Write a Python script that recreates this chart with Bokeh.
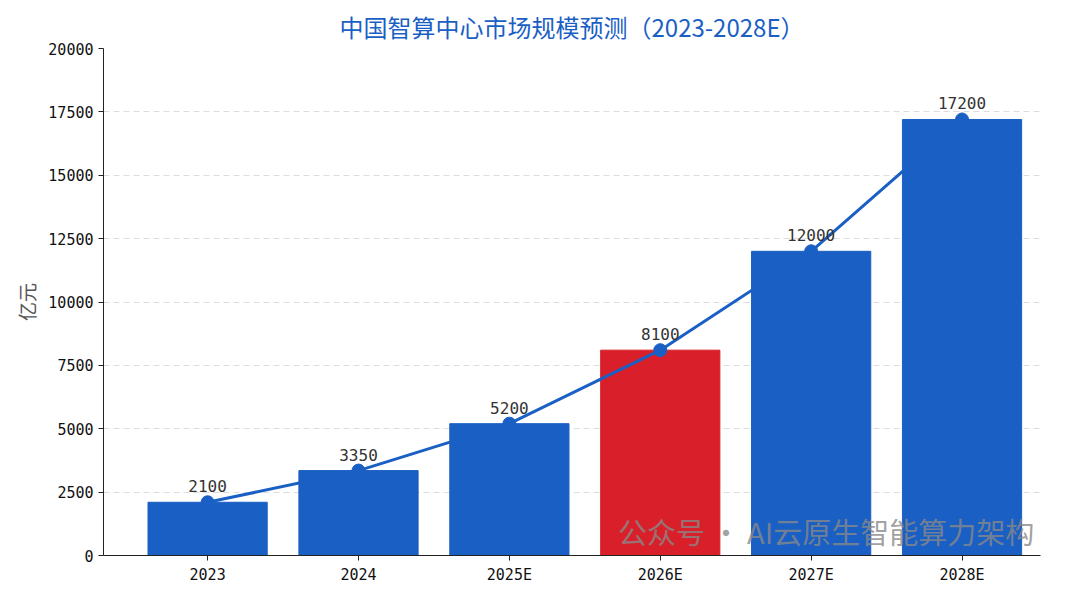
from bokeh.plotting import figure
from bokeh.models import FixedTicker, ColumnDataSource, Label
from bokeh.core.properties import value
from bokeh.embed import file_html
from bokeh.resources import INLINE

categories = ["2023", "2024", "2025E", "2026E", "2027E", "2028E"]
values = [2100, 3350, 5200, 8100, 12000, 17200]
colors = ["#1a5fc4", "#1a5fc4", "#1a5fc4", "#d9202a", "#1a5fc4", "#1a5fc4"]
yticks = [0, 2500, 5000, 7500, 10000, 12500, 15000, 17500, 20000]

xs = list(range(len(categories)))
src = ColumnDataSource(dict(x=xs, v=values, c=colors, lab=[str(v) for v in values]))

p = figure(width=1064, height=586, output_backend="svg", toolbar_location=None,
           x_range=(-0.69, 5.52), y_range=(0, 20000),
           min_border_left=103, min_border_right=24, min_border_top=48, min_border_bottom=30)
p.title.text = "中国智算中心市场规模预测（2023-2028E）"
p.title.align = "center"
p.title.text_font = "Noto Sans CJK SC"
p.title.text_font_size = "24px"
p.title.text_font_style = "normal"
p.title.text_color = "#1a5fc4"
p.outline_line_color = None
p.vbar(x="x", top="v", width=0.79, color="c", source=src)
p.line(x="x", y="v", source=src, line_color="#1a5fc4", line_width=3)
p.scatter(x="x", y="v", source=src, size=13, color="#1a5fc4")
p.text(x="x", y="v", text="lab", source=src, y_offset=-10, text_align="center",
       text_baseline="bottom", text_font=value("DejaVu Sans Mono"), text_font_size="16px",
       text_color="#333333")

p.xaxis.ticker = FixedTicker(ticks=xs)
p.xaxis.major_label_overrides = {i: c for i, c in enumerate(categories)}
p.yaxis.ticker = FixedTicker(ticks=yticks)
p.yaxis.axis_label = "亿元"
p.yaxis.axis_label_text_font = "Noto Sans CJK SC"
p.yaxis.axis_label_text_font_style = "normal"
p.yaxis.axis_label_text_font_size = "19px"
p.yaxis.axis_label_text_color = "#555555"
for ax in (p.xaxis, p.yaxis):
    ax.major_label_text_font = "DejaVu Sans Mono"
    ax.major_label_text_font_size = "15px"
    ax.major_label_text_color = "#111111"
    ax.axis_line_color = "#222222"
    ax.major_tick_line_color = "#222222"
    ax.minor_tick_line_color = None
    ax.major_tick_out = 5
    ax.major_tick_in = 0
p.xgrid.grid_line_color = None
p.ygrid.grid_line_color = "#dddddd"
p.ygrid.grid_line_dash = "6 4"

p.add_layout(Label(x=2.72, y=150, text_align="left",
                   text="公众号 · AI云原生智能算力架构", text_font="Noto Sans CJK SC",
                   text_font_size="29px", text_color="#888888", text_alpha=0.8))

open("out.html", "w").write(file_html(p, INLINE))
